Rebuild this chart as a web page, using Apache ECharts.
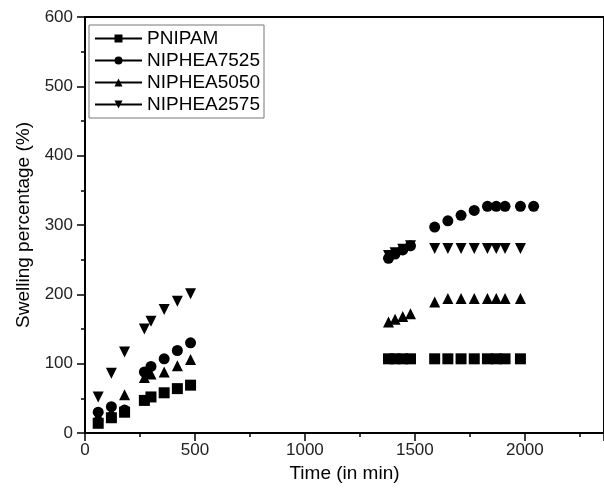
<!DOCTYPE html>
<html>
<head>
<meta charset="utf-8">
<script src="https://cdn.jsdelivr.net/npm/echarts@6/dist/echarts.min.js"></script>
<style>html,body{margin:0;padding:0;background:#fff;}#c{width:604px;height:493px;}</style>
</head>
<body>
<div id="c"></div>
<script>
const timeMin    = [60,120,180,270,300,360,420,480,1380,1410,1445,1480,1590,1650,1710,1770,1830,1870,1910,1980,2040];
const pnipam     = [14,22,30,47,52,58,64,69,107,107,107,107,107,107,107,107,107,107,107,107,null];
const niphea7525 = [30,38,33,88,96,107,119,130,252,258,264,270,297,306,314,321,327,327,327,327,327];
const niphea5050 = [25,30,55,80,85,88,97,106,160,164,168,172,189,194,194,194,194,194,194,194,null];
const niphea2575 = [52,86,117,150,161,178,190,201,256,260,265,270,266,266,266,266,266,266,266,266,null];
const seriesNames = ['PNIPAM','NIPHEA7525','NIPHEA5050','NIPHEA2575'];
const seriesVals = [pnipam, niphea7525, niphea5050, niphea2575];
const symbols = ['rect','circle','triangle','triangle'];
const rotates = [0,0,0,180];

const font = 'Liberation Sans, Arial, sans-serif';
const chart = echarts.init(document.getElementById('c'), null, {renderer:'canvas'});
const series = seriesNames.map((n,i)=>({
  name:n, type:'line',
  data: timeMin.map((t,k)=> seriesVals[i][k]==null ? null : [t, seriesVals[i][k]]).filter(d=>d),
  symbol: symbols[i], symbolRotate: rotates[i], symbolSize: 11,
  showAllSymbol: true,
  lineStyle:{width:0, opacity:0},
  itemStyle:{color:'#000'},
  emphasis:{disabled:true}
}));
chart.setOption({
  animation:false,
  backgroundColor:'#fff',
  grid:{left:85, right:0, top:17, bottom:60, show:true, borderColor:'#000', borderWidth:2, backgroundColor:'transparent'},
  legend:{
    orient:'vertical', left:89, top:25,
    itemWidth:47, itemHeight:10, itemGap:3,
    padding:[4,4,4,5],
    borderColor:'#777', borderWidth:1,
    textStyle:{fontFamily:font, fontSize:19, color:'#000', lineHeight:19},
    lineStyle:{width:2, color:'#000', opacity:1, type:'solid'},
    itemStyle:{color:'#000'},
    data: seriesNames.map((n)=>({name:n}))
  },
  xAxis:{
    type:'value', min:0, max:2360, interval:500,
    name:'Time (in min)', nameLocation:'middle', nameGap:30,
    nameTextStyle:{fontFamily:font, fontSize:19, color:'#000'},
    axisLine:{lineStyle:{color:'#000', width:2}},
    axisTick:{inside:false, length:8, lineStyle:{color:'#000', width:1.5}},
    minorTick:{show:true, splitNumber:2, length:4, lineStyle:{color:'#000', width:1.5}},
    axisLabel:{fontFamily:font, fontSize:17, color:'#222', showMaxLabel:false, margin:9, formatter:(v)=>String(v)},
    splitLine:{show:false}
  },
  yAxis:{
    type:'value', min:0, max:600, interval:100,
    name:'Swelling percentage (%)', nameLocation:'middle', nameGap:52,
    nameTextStyle:{fontFamily:font, fontSize:19, color:'#000'},
    axisLine:{show:true, lineStyle:{color:'#000', width:2}},
    axisTick:{show:true, inside:false, length:8, lineStyle:{color:'#000', width:1.5}},
    minorTick:{show:true, splitNumber:2, length:4, lineStyle:{color:'#000', width:1.5}},
    axisLabel:{fontFamily:font, fontSize:17, color:'#222', margin:12, formatter:(v)=>String(v)},
    splitLine:{show:false}
  },
  series: series
});
</script>
</body>
</html>
